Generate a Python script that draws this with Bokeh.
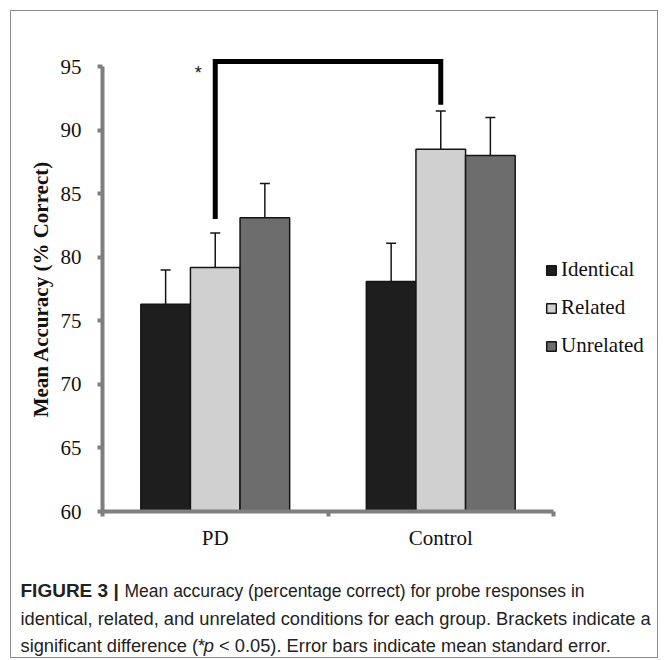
from bokeh.plotting import figure
from bokeh.models import (ColumnDataSource, FixedTicker, Whisker, TeeHead, Legend,
                          LegendItem, Label, Range1d)
from bokeh.embed import file_html
from bokeh.resources import INLINE
from bokeh.core.properties import value

# ---- data ----
groups = ["PD", "Control"]
conditions = ["Identical", "Related", "Unrelated"]
identical = [76.3, 78.1]
related = [79.2, 88.5]
unrelated = [83.1, 88.0]
identical_err = [2.7, 3.0]
related_err = [2.7, 3.0]
unrelated_err = [2.7, 3.0]
y_ticks = [60, 65, 70, 75, 80, 85, 90, 95]
bracket_left_low = 83.0
bracket_top = 95.4
bracket_right_low = 92.0
star_y = 94.5
caption_bold = "FIGURE 3 |"
caption_line1 = "Mean accuracy (percentage correct) for probe responses in"
caption_line2 = "identical, related, and unrelated conditions for each group. Brackets indicate a"
caption_line3 = ["significant difference (*", "p", "< 0.05). Error bars indicate mean standard error."]

# ---- style ----
colors = ["#1e1e1e", "#d0d0d0", "#6d6d6d"]
offsets = [-0.22, 0.0, 0.22]
bar_width = 0.22
serif = "Liberation Serif"
sans = "Liberation Sans"
axis_gray = "#7f7f7f"
cap_color = "#222222"

W, H = 648, 648
p = figure(width=W, height=H, output_backend="svg", toolbar_location=None,
           x_range=Range1d(-0.4035, 2.470), y_range=Range1d(48.36, 99.33),
           min_border=0, min_border_left=0, min_border_right=0,
           min_border_top=0, min_border_bottom=0)
p.styles = {"border": "1px solid #8a8a8a", "margin-left": "10px", "margin-top": "10px"}
p.grid.visible = False
p.outline_line_color = None
p.background_fill_color = "white"
p.border_fill_color = "white"

values = [identical, related, unrelated]
errors = [identical_err, related_err, unrelated_err]
renderers = []
for i, cond in enumerate(conditions):
    xs = [g + 0.5 + offsets[i] for g in range(len(groups))]
    src = ColumnDataSource(dict(
        x=xs, top=values[i],
        upper=[v + e for v, e in zip(values[i], errors[i])],
        lower=[v - e for v, e in zip(values[i], errors[i])],
    ))
    r = p.vbar(x="x", top="top", bottom=60, width=bar_width, source=src,
               fill_color=colors[i], line_color="#151515", line_width=1.5)
    renderers.append(r)
    w = Whisker(base="x", upper="upper", lower="lower", source=src,
                dimension="height", line_color="#151515", line_width=1.5,
                upper_head=TeeHead(size=10, line_color="#151515", line_width=1.5),
                lower_head=TeeHead(size=10, line_color="#151515", line_width=1.5))
    p.add_layout(w)

# significance bracket between Related bars of the two groups
bx_left = 0 + 0.5 + offsets[1]
bx_right = 1 + 0.5 + offsets[1]
p.line(x=[bx_left, bx_left, bx_right, bx_right],
       y=[bracket_left_low, bracket_top, bracket_top, bracket_right_low],
       line_color="black", line_width=5, line_join="miter")
p.text(x=[bx_left - 0.075], y=[star_y], text=["*"], text_font=value(sans),
       text_font_size="18px", text_align="center", text_baseline="middle",
       text_color="#111111")

# ---- axes ----
p.yaxis.fixed_location = 0
p.yaxis.ticker = FixedTicker(ticks=y_ticks)
p.yaxis.bounds = (60, 95)
p.yaxis.axis_line_color = axis_gray
p.yaxis.axis_line_width = 4
p.yaxis.major_tick_line_color = axis_gray
p.yaxis.major_tick_line_width = 4
p.yaxis.major_tick_out = 5
p.yaxis.major_tick_in = 0
p.yaxis.minor_tick_line_color = None
p.yaxis.major_label_text_font = serif
p.yaxis.major_label_text_font_size = "21px"
p.yaxis.major_label_text_color = "#111111"
p.yaxis.major_label_standoff = 16
p.yaxis.axis_label = "Mean Accuracy (% Correct)"
p.yaxis.axis_label_text_font = serif
p.yaxis.axis_label_text_font_size = "21px"
p.yaxis.axis_label_text_font_style = "bold"
p.yaxis.axis_label_text_color = "#111111"
p.yaxis.axis_label_standoff = 5

p.xaxis.fixed_location = 60
p.xaxis.ticker = FixedTicker(ticks=[g + 0.5 for g in range(len(groups))],
                             minor_ticks=[g for g in range(len(groups) + 1)])
p.xaxis.major_label_overrides = {g + 0.5: name for g, name in enumerate(groups)}
p.xaxis.bounds = (0, 2)
p.xaxis.axis_line_color = axis_gray
p.xaxis.axis_line_width = 4
p.xaxis.major_tick_line_color = None
p.xaxis.minor_tick_line_color = axis_gray
p.xaxis.minor_tick_line_width = 4
p.xaxis.minor_tick_out = 5
p.xaxis.minor_tick_in = 0
p.xaxis.major_label_text_font = serif
p.xaxis.major_label_text_font_size = "21px"
p.xaxis.major_label_text_color = "#111111"
p.xaxis.major_label_standoff = 8

# ---- legend ----
legend = Legend(items=[LegendItem(label=c, renderers=[r]) for c, r in zip(conditions, renderers)],
                location=(534, 301), orientation="vertical",
                glyph_width=12, glyph_height=12, label_standoff=4, spacing=13,
                padding=0, margin=0, border_line_alpha=0, background_fill_alpha=0,
                label_text_font=serif, label_text_font_size="21px",
                label_text_color="#111111", label_height=12)
p.add_layout(legend, "center")

# ---- caption ----
cap_y = [69, 41, 14]
cap_size = 18.3
p.add_layout(Label(x=9, y=cap_y[0], x_units="screen", y_units="screen",
                   text=caption_bold, text_font=sans, text_font_style="bold",
                   text_font_size="19px", text_baseline="middle", text_color=cap_color))
p.add_layout(Label(x=113, y=cap_y[0], x_units="screen", y_units="screen",
                   text=caption_line1, text_font=sans,
                   text_font_size="17.5px", text_baseline="middle", text_color=cap_color))
p.add_layout(Label(x=9, y=cap_y[1], x_units="screen", y_units="screen",
                   text=caption_line2, text_font=sans,
                   text_font_size=f"{cap_size}px", text_baseline="middle", text_color=cap_color))
# third line: italic "p" in the middle (Arial-metric widths for placement)
em = cap_size / 1000.0
w_a = 10015 * em
w_p = 556 * em
w_sp = 278 * em
p.add_layout(Label(x=9, y=cap_y[2], x_units="screen", y_units="screen",
                   text=caption_line3[0], text_font=sans,
                   text_font_size=f"{cap_size}px", text_baseline="middle", text_color=cap_color))
p.add_layout(Label(x=9 + w_a, y=cap_y[2], x_units="screen", y_units="screen",
                   text=caption_line3[1], text_font=sans, text_font_style="italic",
                   text_font_size=f"{cap_size}px", text_baseline="middle", text_color=cap_color))
p.add_layout(Label(x=9 + w_a + w_p + w_sp, y=cap_y[2], x_units="screen", y_units="screen",
                   text=caption_line3[2], text_font=sans,
                   text_font_size=f"{cap_size}px", text_baseline="middle", text_color=cap_color))

open("out.html", "w").write(file_html(p, INLINE))
